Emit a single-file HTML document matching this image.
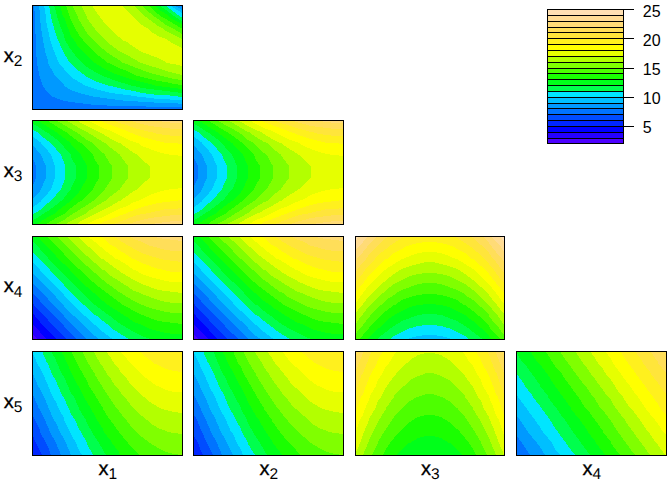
<!DOCTYPE html>
<html><head><meta charset="utf-8"><title>plot</title>
<style>html,body{margin:0;padding:0;background:#fff}svg{display:block}text.a{text-rendering:geometricPrecision;stroke:#000;stroke-width:.3px}text.a tspan{stroke:none}text{font-family:"Liberation Sans",Arial,sans-serif;fill:#000}</style></head>
<body>
<svg width="672" height="480" viewBox="0 0 672 480">
<rect width="672" height="480" fill="#fff"/>
<g shape-rendering="crispEdges">
<rect x="32" y="5" width="150" height="104" fill="#0073FF"/>
<path fill="#0099FF" d="M53,97l3,1l8,3l7,1l8,1l8,1l8,1l8,0l8,1l8,0l8,0l7,0l8,0l8,1l8,0l8,0l8,0l8,0l0,-10l0,-11l0,-12l0,-11l0,-12l0,-11l0,-12l0,-11l0,-10l-3,-2l-5,0l-8,0l-8,0l-8,0l-8,0l-8,0l-7,0l-8,0l-8,0l-8,0l-8,0l-8,0l-8,0l-8,0l-7,0l-8,0l-8,0l-8,0l-6,0l1,12l0,11l1,12l0,11l1,12l2,11l1,3l3,9l5,7z"/>
<path fill="#00BFFF" d="M97,97l6,1l8,1l8,1l8,1l7,0l8,1l8,0l8,1l8,0l8,0l8,1l0,-7l0,-11l0,-12l0,-11l0,-12l0,-11l0,-12l0,-11l0,-7l-8,-5l-8,0l-8,0l-8,0l-8,0l-8,0l-7,0l-8,0l-8,0l-8,0l-8,0l-8,0l-8,0l-8,0l-7,0l-8,0l-8,0l-8,0l-1,0l1,9l0,3l1,11l2,12l2,11l3,10l0,2l6,11l2,3l8,8l0,1l7,4l8,3l8,2l8,2z"/>
<path fill="#00E5FF" d="M140,97l2,0l8,1l8,1l8,0l8,1l8,0l0,-3l0,-11l0,-12l0,-11l0,-12l0,-11l0,-12l0,-11l0,-4l-8,-5l-4,-3l-4,0l-8,0l-8,0l-8,0l-8,0l-7,0l-8,0l-8,0l-8,0l-8,0l-8,0l-8,0l-8,0l-7,0l-8,0l-8,0l-4,0l2,12l1,11l1,1l2,11l4,11l2,5l3,7l5,6l4,5l3,3l8,5l7,4l1,0l8,3l8,2l8,2l8,1l8,1l7,1z"/>
<path fill="#00FF4D" d="M109,86l2,0l8,2l8,2l7,1l8,2l8,1l8,1l8,0l8,1l8,1l0,-11l0,-12l0,-11l0,-12l0,-11l0,-12l0,-11l-1,0l-7,-5l-8,-6l-1,-1l-7,0l-8,0l-8,0l-8,0l-7,0l-8,0l-8,0l-8,0l-8,0l-8,0l-8,0l-8,0l-7,0l-8,0l-7,0l2,12l3,11l2,6l2,6l5,11l1,2l6,10l1,1l8,7l4,3l4,3l8,4l8,3z"/>
<path fill="#00FF1A" d="M132,86l2,0l8,2l8,1l8,1l8,1l8,1l8,1l0,-7l0,-12l0,-11l0,-12l0,-11l0,-12l0,-7l-7,-4l-1,-1l-8,-6l-7,-5l-1,0l-8,0l-8,0l-8,0l-7,0l-8,0l-8,0l-8,0l-8,0l-8,0l-8,0l-8,0l-7,0l-8,0l-2,0l2,6l1,6l4,11l3,7l1,5l6,10l1,1l7,9l3,3l5,4l8,5l4,2l4,2l8,3l8,3l8,2z"/>
<path fill="#1AFF00" d="M157,86l1,0l8,1l8,1l8,1l0,-3l0,-12l0,-11l0,-12l0,-11l0,-12l0,-4l-8,-4l-5,-3l-3,-3l-8,-5l-4,-4l-4,0l-8,0l-8,0l-7,0l-8,0l-8,0l-8,0l-8,0l-8,0l-8,0l-8,0l-7,0l-4,0l3,12l1,0l4,11l3,8l3,4l5,8l3,3l5,5l7,7l1,0l8,5l8,4l4,2l4,1l8,3l7,2l8,2l8,2z"/>
<path fill="#4DFF00" d="M133,74l1,1l8,2l8,2l8,2l8,1l8,2l8,1l0,-11l0,-11l0,-12l0,-11l0,-12l-1,0l-7,-4l-8,-5l-4,-2l-4,-3l-8,-7l-2,-2l-6,0l-8,0l-7,0l-8,0l-8,0l-8,0l-8,0l-8,0l-8,0l-8,0l-5,0l4,12l1,3l4,8l4,7l4,5l4,5l6,6l2,2l8,6l5,4l3,1l8,4l8,3z"/>
<path fill="#80FF00" d="M153,74l5,1l8,2l8,2l8,1l0,-6l0,-11l0,-12l0,-11l0,-6l-8,-5l-2,-1l-6,-3l-8,-6l-3,-2l-5,-4l-8,-7l-1,-1l-7,0l-7,0l-8,0l-8,0l-8,0l-8,0l-8,0l-8,0l-7,0l6,12l1,3l5,8l3,5l6,7l2,2l8,7l2,2l6,4l8,5l4,3l4,1l7,3l8,3l8,3z"/>
<path fill="#B3FF00" d="M177,74l5,1l0,-1l0,-11l0,-12l0,-11l0,-1l-8,-4l-8,-4l-4,-3l-4,-2l-8,-6l-4,-3l-4,-3l-8,-8l-1,-1l-6,0l-8,0l-8,0l-8,0l-8,0l-8,0l-6,0l6,12l0,1l7,10l1,1l8,9l2,2l6,5l8,6l8,4l7,4l7,4l1,0l8,3l8,2l8,3l8,2z"/>
<path fill="#E6FF00" d="M166,63l8,1l8,2l0,-3l0,-12l0,-3l-8,-4l-7,-4l-1,-1l-8,-3l-8,-5l-3,-3l-5,-3l-8,-7l-1,-1l-6,-6l-5,-6l-3,0l-8,0l-8,0l-8,0l-3,0l3,5l5,7l3,4l6,7l2,2l8,7l3,3l5,2l7,5l6,4l2,1l8,3l8,3l8,4z"/>
<rect x="32.5" y="5.5" width="150" height="104" fill="none" stroke="#000" stroke-width="1"/>
</g>
<g shape-rendering="crispEdges">
<rect x="32" y="120" width="150" height="104" fill="#0073FF"/>
<path fill="#0099FF" d="M32,224l8,0l8,0l8,0l8,0l7,0l8,0l8,0l8,0l8,0l8,0l8,0l8,0l7,0l8,0l8,0l8,0l8,0l8,0l8,0l0,-12l0,-11l0,-12l0,-11l0,-12l0,-11l0,-12l0,-11l0,-12l-8,0l-8,0l-8,0l-8,0l-8,0l-8,0l-7,0l-8,0l-8,0l-8,0l-8,0l-8,0l-8,0l-8,0l-7,0l-8,0l-8,0l-8,0l-8,0l0,12l0,11l0,12l0,1l4,10l0,12l-4,10l0,1l0,12l0,11z"/>
<path fill="#00BFFF" d="M32,224l8,0l8,0l8,0l8,0l7,0l8,0l8,0l8,0l8,0l8,0l8,0l8,0l7,0l8,0l8,0l8,0l8,0l8,0l8,0l0,-12l0,-11l0,-12l0,-11l0,-12l0,-11l0,-12l0,-11l0,-12l-8,0l-8,0l-8,0l-8,0l-8,0l-8,0l-7,0l-8,0l-8,0l-8,0l-8,0l-8,0l-8,0l-8,0l-7,0l-8,0l-8,0l-8,0l-8,0l0,12l0,11l0,1l8,10l1,1l5,11l0,12l-5,11l-1,2l-8,9l0,1l0,11z"/>
<path fill="#00E5FF" d="M32,224l8,0l8,0l8,0l8,0l7,0l8,0l8,0l8,0l8,0l8,0l8,0l8,0l7,0l8,0l8,0l8,0l8,0l8,0l8,0l0,-12l0,-11l0,-12l0,-11l0,-12l0,-11l0,-12l0,-11l0,-12l-8,0l-8,0l-8,0l-8,0l-8,0l-8,0l-7,0l-8,0l-8,0l-8,0l-8,0l-8,0l-8,0l-8,0l-7,0l-8,0l-8,0l-8,0l-8,0l0,12l0,4l8,6l1,1l7,8l3,4l4,11l0,12l-4,11l-3,4l-7,8l-1,1l-8,6l0,4z"/>
<path fill="#00FF4D" d="M32,224l8,0l8,0l8,0l8,0l7,0l8,0l8,0l8,0l8,0l8,0l8,0l8,0l7,0l8,0l8,0l8,0l8,0l8,0l8,0l0,-12l0,-11l0,-12l0,-11l0,-12l0,-11l0,-12l0,-11l0,-12l-8,0l-8,0l-8,0l-8,0l-8,0l-8,0l-7,0l-8,0l-8,0l-8,0l-8,0l-8,0l-8,0l-8,0l-7,0l-8,0l-8,0l-8,0l-8,0l0,9l5,3l3,3l8,6l3,2l5,6l5,6l3,7l1,4l0,12l-1,4l-3,7l-5,6l-5,6l-3,2l-8,7l-3,2l-5,3z"/>
<path fill="#00FF1A" d="M32,224l8,0l8,0l8,0l8,0l7,0l8,0l8,0l8,0l8,0l8,0l8,0l8,0l7,0l8,0l8,0l8,0l8,0l8,0l8,0l0,-12l0,-11l0,-12l0,-11l0,-12l0,-11l0,-12l0,-11l0,-12l-8,0l-8,0l-8,0l-8,0l-8,0l-8,0l-7,0l-8,0l-8,0l-8,0l-8,0l-8,0l-8,0l-8,0l-7,0l-8,0l-8,0l-8,0l-8,0l0,3l8,5l6,4l2,1l8,6l5,4l3,4l7,8l0,2l5,9l0,12l-5,10l0,1l-7,9l-3,3l-5,4l-8,6l-2,1l-6,4l-8,5z"/>
<path fill="#1AFF00" d="M37,224l3,0l8,0l8,0l8,0l7,0l8,0l8,0l8,0l8,0l8,0l8,0l8,0l7,0l8,0l8,0l8,0l8,0l8,0l8,0l0,-12l0,-11l0,-12l0,-11l0,-12l0,-11l0,-12l0,-11l0,-12l-8,0l-8,0l-8,0l-8,0l-8,0l-8,0l-7,0l-8,0l-8,0l-8,0l-8,0l-8,0l-8,0l-8,0l-7,0l-8,0l-8,0l-8,0l-3,0l3,2l8,5l8,5l8,6l7,5l0,1l8,9l2,2l6,11l0,12l-6,11l-2,3l-8,8l0,1l-7,5l-8,6l0,1l-8,4l-8,5z"/>
<path fill="#4DFF00" d="M46,224l2,0l8,0l8,0l7,0l8,0l8,0l8,0l8,0l8,0l8,0l8,0l7,0l8,0l8,0l8,0l8,0l8,0l8,0l0,-12l0,-11l0,-12l0,-11l0,-12l0,-11l0,-12l0,-11l0,-12l-8,0l-8,0l-8,0l-8,0l-8,0l-8,0l-7,0l-8,0l-8,0l-8,0l-8,0l-8,0l-8,0l-8,0l-7,0l-8,0l-8,0l-2,0l2,1l8,5l8,5l2,1l5,4l8,6l2,1l6,6l6,6l2,5l4,6l0,12l-4,7l-2,4l-6,6l-6,6l-2,1l-8,6l-5,4l-2,2l-8,4l-8,5z"/>
<path fill="#80FF00" d="M56,224l8,0l7,0l8,0l8,0l8,0l8,0l8,0l8,0l8,0l7,0l8,0l8,0l8,0l8,0l8,0l8,0l0,-12l0,-11l0,-12l0,-11l0,-12l0,-11l0,-12l0,-11l0,-12l-8,0l-8,0l-8,0l-8,0l-8,0l-8,0l-7,0l-8,0l-8,0l-8,0l-8,0l-8,0l-8,0l-8,0l-7,0l-8,0l8,5l7,4l5,3l3,2l8,6l6,3l2,3l8,7l2,2l6,10l1,1l0,12l-1,2l-6,9l-2,2l-8,8l-2,2l-6,4l-8,5l-3,2l-5,3l-7,5z"/>
<path fill="#B3FF00" d="M66,224l5,0l8,0l8,0l8,0l8,0l8,0l8,0l8,0l7,0l8,0l8,0l8,0l8,0l8,0l8,0l0,-12l0,-11l0,-12l0,-11l0,-12l0,-11l0,-12l0,-11l0,-12l-8,0l-8,0l-8,0l-8,0l-8,0l-8,0l-7,0l-8,0l-8,0l-8,0l-8,0l-8,0l-8,0l-8,0l-5,0l5,3l8,5l8,4l8,5l8,5l2,1l6,5l8,6l1,1l7,10l1,1l0,12l-1,1l-7,10l-1,1l-8,6l-6,5l-2,1l-8,5l-8,5l0,1l-8,4l-8,4z"/>
<path fill="#E6FF00" d="M77,224l2,0l8,0l8,0l8,0l8,0l8,0l8,0l7,0l8,0l8,0l8,0l8,0l8,0l8,0l0,-12l0,-11l0,-12l0,-11l0,-12l0,-11l0,-12l0,-11l0,-12l-8,0l-8,0l-8,0l-8,0l-8,0l-8,0l-7,0l-8,0l-8,0l-8,0l-8,0l-8,0l-8,0l-2,0l2,2l8,4l8,4l4,2l4,2l8,5l8,4l1,0l7,5l7,5l4,2l4,5l8,6l0,12l-8,6l-4,5l-4,2l-7,5l-7,5l-1,0l-8,5l-8,4l-4,2l-4,2l-8,4l-8,4z"/>
<path fill="#FFFF00" d="M87,224l8,0l8,0l8,0l8,0l8,0l7,0l8,0l8,0l8,0l8,0l8,0l8,0l0,-12l0,-11l0,-12l0,-1l-8,1l-2,0l-6,1l-8,2l-8,3l-8,4l-4,2l-4,1l-7,4l-8,3l-6,3l-2,1l-8,4l-8,3zM172,155l2,0l8,1l0,-1l0,-12l0,-11l0,-12l-8,0l-8,0l-8,0l-8,0l-8,0l-8,0l-7,0l-8,0l-8,0l-8,0l-8,0l-8,0l8,4l8,4l8,3l2,1l6,3l8,4l7,3l4,1l4,3l8,3l8,3l8,2z"/>
<path fill="#FFF01E" d="M99,224l4,0l8,0l8,0l8,0l7,0l8,0l8,0l8,0l8,0l8,0l8,0l0,-12l0,-11l0,-1l-8,1l-1,0l-7,1l-8,1l-8,2l-8,2l-8,3l-6,2l-1,1l-8,3l-8,3l-8,3zM173,143l1,0l8,1l0,-1l0,-11l0,-12l-8,0l-8,0l-8,0l-8,0l-8,0l-8,0l-7,0l-8,0l-8,0l-8,0l-4,0l4,2l8,3l8,3l8,3l1,1l6,2l8,3l8,2l8,2l8,2z"/>
<path fill="#FFE53B" d="M113,224l6,0l8,0l7,0l8,0l8,0l8,0l8,0l8,0l8,0l0,-12l0,-4l-8,1l-8,0l-8,2l-7,1l-1,1l-8,1l-8,2l-7,3l-8,3zM151,132l7,2l8,1l8,1l8,0l0,-4l0,-12l-8,0l-8,0l-8,0l-8,0l-8,0l-8,0l-7,0l-8,0l-6,0l6,3l8,2l7,3l8,2l8,2z"/>
<path fill="#FFDE59" d="M129,224l5,0l8,0l8,0l8,0l8,0l8,0l8,0l0,-9l-8,0l-8,1l-8,1l-8,1l-8,2l-8,2zM129,120l5,2l8,2l8,2l8,1l8,1l8,1l8,0l0,-9l-8,0l-8,0l-8,0l-8,0l-8,0l-8,0z"/>
<path fill="#FFDB77" d="M152,224l6,0l8,0l8,0l8,0l0,-3l-8,0l-8,1l-8,1zM152,120l6,1l8,1l8,1l8,0l0,-3l-8,0l-8,0l-8,0z"/>
<rect x="32.5" y="120.5" width="150" height="104" fill="none" stroke="#000" stroke-width="1"/>
</g>
<g shape-rendering="crispEdges">
<rect x="193" y="120" width="150" height="104" fill="#0073FF"/>
<path fill="#0099FF" d="M193,224l8,0l8,0l8,0l8,0l8,0l8,0l7,0l8,0l8,0l8,0l8,0l8,0l8,0l8,0l7,0l8,0l8,0l8,0l8,0l0,-12l0,-11l0,-12l0,-11l0,-12l0,-11l0,-12l0,-11l0,-12l-8,0l-8,0l-8,0l-8,0l-7,0l-8,0l-8,0l-8,0l-8,0l-8,0l-8,0l-8,0l-7,0l-8,0l-8,0l-8,0l-8,0l-8,0l-8,0l0,12l0,11l0,12l0,1l5,10l0,12l-5,10l0,1l0,12l0,11z"/>
<path fill="#00BFFF" d="M193,224l8,0l8,0l8,0l8,0l8,0l8,0l7,0l8,0l8,0l8,0l8,0l8,0l8,0l8,0l7,0l8,0l8,0l8,0l8,0l0,-12l0,-11l0,-12l0,-11l0,-12l0,-11l0,-12l0,-11l0,-12l-8,0l-8,0l-8,0l-8,0l-7,0l-8,0l-8,0l-8,0l-8,0l-8,0l-8,0l-8,0l-7,0l-8,0l-8,0l-8,0l-8,0l-8,0l-8,0l0,12l0,11l0,1l8,10l1,1l5,11l0,12l-5,11l-1,2l-8,9l0,1l0,11z"/>
<path fill="#00E5FF" d="M193,224l8,0l8,0l8,0l8,0l8,0l8,0l7,0l8,0l8,0l8,0l8,0l8,0l8,0l8,0l7,0l8,0l8,0l8,0l8,0l0,-12l0,-11l0,-12l0,-11l0,-12l0,-11l0,-12l0,-11l0,-12l-8,0l-8,0l-8,0l-8,0l-7,0l-8,0l-8,0l-8,0l-8,0l-8,0l-8,0l-8,0l-7,0l-8,0l-8,0l-8,0l-8,0l-8,0l-8,0l0,12l0,4l8,6l1,1l7,8l3,4l5,11l0,12l-5,11l-3,4l-7,8l-1,1l-8,6l0,4z"/>
<path fill="#00FF4D" d="M193,224l8,0l8,0l8,0l8,0l8,0l8,0l7,0l8,0l8,0l8,0l8,0l8,0l8,0l8,0l7,0l8,0l8,0l8,0l8,0l0,-12l0,-11l0,-12l0,-11l0,-12l0,-11l0,-12l0,-11l0,-12l-8,0l-8,0l-8,0l-8,0l-7,0l-8,0l-8,0l-8,0l-8,0l-8,0l-8,0l-8,0l-7,0l-8,0l-8,0l-8,0l-8,0l-8,0l-8,0l0,9l5,3l3,3l8,6l3,2l5,6l5,6l3,7l2,4l0,12l-2,4l-3,7l-5,6l-5,6l-3,2l-8,7l-3,2l-5,3z"/>
<path fill="#00FF1A" d="M193,224l8,0l8,0l8,0l8,0l8,0l8,0l7,0l8,0l8,0l8,0l8,0l8,0l8,0l8,0l7,0l8,0l8,0l8,0l8,0l0,-12l0,-11l0,-12l0,-11l0,-12l0,-11l0,-12l0,-11l0,-12l-8,0l-8,0l-8,0l-8,0l-7,0l-8,0l-8,0l-8,0l-8,0l-8,0l-8,0l-8,0l-7,0l-8,0l-8,0l-8,0l-8,0l-8,0l-8,0l0,3l8,5l6,4l2,1l8,6l5,4l3,4l7,8l1,2l4,9l0,12l-4,10l-1,1l-7,9l-3,3l-5,4l-8,6l-2,1l-6,4l-8,5z"/>
<path fill="#1AFF00" d="M198,224l3,0l8,0l8,0l8,0l8,0l8,0l7,0l8,0l8,0l8,0l8,0l8,0l8,0l8,0l7,0l8,0l8,0l8,0l8,0l0,-12l0,-11l0,-12l0,-11l0,-12l0,-11l0,-12l0,-11l0,-12l-8,0l-8,0l-8,0l-8,0l-7,0l-8,0l-8,0l-8,0l-8,0l-8,0l-8,0l-8,0l-7,0l-8,0l-8,0l-8,0l-8,0l-8,0l-3,0l3,2l8,5l8,5l8,6l7,5l1,1l8,9l2,2l5,11l0,12l-5,11l-2,3l-8,8l-1,1l-7,5l-8,6l0,1l-8,4l-8,5z"/>
<path fill="#4DFF00" d="M208,224l1,0l8,0l8,0l8,0l8,0l7,0l8,0l8,0l8,0l8,0l8,0l8,0l8,0l7,0l8,0l8,0l8,0l8,0l0,-12l0,-11l0,-12l0,-11l0,-12l0,-11l0,-12l0,-11l0,-12l-8,0l-8,0l-8,0l-8,0l-7,0l-8,0l-8,0l-8,0l-8,0l-8,0l-8,0l-8,0l-7,0l-8,0l-8,0l-8,0l-8,0l-1,0l1,1l8,5l8,5l2,1l6,4l8,6l2,1l5,6l6,6l2,5l4,6l0,12l-4,7l-2,4l-6,6l-5,6l-2,1l-8,6l-6,4l-2,2l-8,4l-8,5z"/>
<path fill="#80FF00" d="M217,224l8,0l8,0l8,0l7,0l8,0l8,0l8,0l8,0l8,0l8,0l8,0l7,0l8,0l8,0l8,0l8,0l0,-12l0,-11l0,-12l0,-11l0,-12l0,-11l0,-12l0,-11l0,-12l-8,0l-8,0l-8,0l-8,0l-7,0l-8,0l-8,0l-8,0l-8,0l-8,0l-8,0l-8,0l-7,0l-8,0l-8,0l-8,0l8,5l8,4l5,3l3,2l7,6l6,3l2,3l8,7l3,2l5,10l1,1l0,12l-1,2l-5,9l-3,2l-8,8l-2,2l-6,4l-7,5l-3,2l-5,3l-8,5z"/>
<path fill="#B3FF00" d="M227,224l6,0l8,0l7,0l8,0l8,0l8,0l8,0l8,0l8,0l8,0l7,0l8,0l8,0l8,0l8,0l0,-12l0,-11l0,-12l0,-11l0,-12l0,-11l0,-12l0,-11l0,-12l-8,0l-8,0l-8,0l-8,0l-7,0l-8,0l-8,0l-8,0l-8,0l-8,0l-8,0l-8,0l-7,0l-8,0l-6,0l6,3l8,5l7,4l1,0l7,5l8,5l3,1l5,5l8,6l1,1l7,10l1,1l0,12l-1,1l-7,10l-1,1l-8,6l-5,5l-3,1l-8,5l-7,5l-1,1l-7,4l-8,4z"/>
<path fill="#E6FF00" d="M238,224l3,0l7,0l8,0l8,0l8,0l8,0l8,0l8,0l8,0l7,0l8,0l8,0l8,0l8,0l0,-12l0,-11l0,-12l0,-11l0,-12l0,-11l0,-12l0,-11l0,-12l-8,0l-8,0l-8,0l-8,0l-7,0l-8,0l-8,0l-8,0l-8,0l-8,0l-8,0l-8,0l-7,0l-3,0l3,2l7,4l8,4l5,2l3,2l8,5l8,4l1,0l7,5l8,5l3,2l5,5l7,6l0,12l-7,6l-5,5l-3,2l-8,5l-7,5l-1,0l-8,5l-8,4l-3,2l-5,2l-8,4l-7,4z"/>
<path fill="#FFFF00" d="M249,224l7,0l8,0l8,0l8,0l8,0l8,0l8,0l7,0l8,0l8,0l8,0l8,0l0,-12l0,-11l0,-12l0,-1l-8,1l-2,0l-6,1l-8,2l-8,3l-7,4l-5,2l-3,1l-8,4l-8,3l-6,3l-2,1l-8,4l-8,3zM333,155l2,0l8,1l0,-1l0,-12l0,-11l0,-12l-8,0l-8,0l-8,0l-8,0l-7,0l-8,0l-8,0l-8,0l-8,0l-8,0l-8,0l-7,0l7,4l8,4l8,3l2,1l6,3l8,4l8,3l3,1l5,3l7,3l8,3l8,2z"/>
<path fill="#FFF01E" d="M261,224l3,0l8,0l8,0l8,0l8,0l8,0l7,0l8,0l8,0l8,0l8,0l0,-12l0,-11l0,-1l-8,1l-1,0l-7,1l-8,1l-8,2l-7,2l-8,3l-6,2l-2,1l-8,3l-8,3l-8,3zM334,143l1,0l8,1l0,-1l0,-11l0,-12l-8,0l-8,0l-8,0l-8,0l-7,0l-8,0l-8,0l-8,0l-8,0l-8,0l-3,0l3,2l8,3l8,3l8,3l2,1l6,2l8,3l7,2l8,2l8,2z"/>
<path fill="#FFE53B" d="M274,224l6,0l8,0l8,0l8,0l7,0l8,0l8,0l8,0l8,0l0,-12l0,-4l-8,1l-8,0l-8,2l-7,1l-1,1l-7,1l-8,2l-8,3l-8,3zM312,132l7,2l8,1l8,1l8,0l0,-4l0,-12l-8,0l-8,0l-8,0l-8,0l-7,0l-8,0l-8,0l-8,0l-6,0l6,3l8,2l8,3l8,2l7,2z"/>
<path fill="#FFDE59" d="M290,224l6,0l8,0l7,0l8,0l8,0l8,0l8,0l0,-9l-8,0l-8,1l-8,1l-8,1l-7,2l-8,2zM290,120l6,2l8,2l7,2l8,1l8,1l8,1l8,0l0,-9l-8,0l-8,0l-8,0l-8,0l-7,0l-8,0z"/>
<path fill="#FFDB77" d="M313,224l6,0l8,0l8,0l8,0l0,-3l-8,0l-8,1l-8,1zM313,120l6,1l8,1l8,1l8,0l0,-3l-8,0l-8,0l-8,0z"/>
<rect x="193.5" y="120.5" width="150" height="104" fill="none" stroke="#000" stroke-width="1"/>
</g>
<g shape-rendering="crispEdges">
<rect x="32" y="236" width="150" height="103" fill="#4C00FF"/>
<path fill="#2600FF" d="M37,339l3,0l8,0l8,0l8,0l7,0l8,0l8,0l8,0l8,0l8,0l8,0l8,0l7,0l8,0l8,0l8,0l8,0l8,0l8,0l0,-11l0,-12l0,-11l0,-12l0,-11l0,-12l0,-11l0,-12l0,-11l-8,0l-8,0l-8,0l-8,0l-8,0l-8,0l-7,0l-8,0l-8,0l-8,0l-8,0l-8,0l-8,0l-8,0l-7,0l-8,0l-8,0l-8,0l-8,0l0,11l0,12l0,11l0,12l0,11l0,12l0,11l0,12l0,6z"/>
<path fill="#0000FF" d="M36,328l4,4l6,7l2,0l8,0l8,0l7,0l8,0l8,0l8,0l8,0l8,0l8,0l8,0l7,0l8,0l8,0l8,0l8,0l8,0l8,0l0,-11l0,-12l0,-11l0,-12l0,-11l0,-12l0,-11l0,-12l0,-11l-8,0l-8,0l-8,0l-8,0l-8,0l-8,0l-7,0l-8,0l-8,0l-8,0l-8,0l-8,0l-8,0l-8,0l-7,0l-8,0l-8,0l-8,0l-8,0l0,11l0,12l0,11l0,12l0,11l0,12l0,11l0,8z"/>
<path fill="#0026FF" d="M45,328l3,2l8,9l8,0l7,0l8,0l8,0l8,0l8,0l8,0l8,0l8,0l7,0l8,0l8,0l8,0l8,0l8,0l8,0l0,-11l0,-12l0,-11l0,-12l0,-11l0,-12l0,-11l0,-12l0,-11l-8,0l-8,0l-8,0l-8,0l-8,0l-8,0l-7,0l-8,0l-8,0l-8,0l-8,0l-8,0l-8,0l-8,0l-7,0l-8,0l-8,0l-8,0l-8,0l0,11l0,12l0,11l0,12l0,11l0,12l0,8l3,3l5,6z"/>
<path fill="#004CFF" d="M55,328l1,1l8,8l2,2l5,0l8,0l8,0l8,0l8,0l8,0l8,0l8,0l7,0l8,0l8,0l8,0l8,0l8,0l8,0l0,-11l0,-12l0,-11l0,-12l0,-11l0,-12l0,-11l0,-12l0,-11l-8,0l-8,0l-8,0l-8,0l-8,0l-8,0l-7,0l-8,0l-8,0l-8,0l-8,0l-8,0l-8,0l-8,0l-7,0l-8,0l-8,0l-8,0l-8,0l0,11l0,12l0,11l0,12l0,11l0,10l2,2l6,7l4,4l4,4z"/>
<path fill="#0073FF" d="M65,328l6,6l6,5l2,0l8,0l8,0l8,0l8,0l8,0l8,0l7,0l8,0l8,0l8,0l8,0l8,0l8,0l0,-11l0,-12l0,-11l0,-12l0,-11l0,-12l0,-11l0,-12l0,-11l-8,0l-8,0l-8,0l-8,0l-8,0l-8,0l-7,0l-8,0l-8,0l-8,0l-8,0l-8,0l-8,0l-8,0l-7,0l-8,0l-8,0l-8,0l-8,0l0,11l0,12l0,11l0,12l0,11l1,0l7,8l3,4l5,5l6,6l2,2l8,8z"/>
<path fill="#0099FF" d="M75,328l4,4l8,7l8,0l8,0l8,0l8,0l8,0l7,0l8,0l8,0l8,0l8,0l8,0l8,0l0,-11l0,-12l0,-11l0,-12l0,-11l0,-12l0,-11l0,-12l0,-11l-8,0l-8,0l-8,0l-8,0l-8,0l-8,0l-7,0l-8,0l-8,0l-8,0l-8,0l-8,0l-8,0l-8,0l-7,0l-8,0l-8,0l-8,0l-8,0l0,11l0,12l0,11l0,12l8,9l2,2l6,6l5,6l3,3l8,8l7,8z"/>
<path fill="#00BFFF" d="M86,328l1,1l8,7l4,3l4,0l8,0l8,0l8,0l7,0l8,0l8,0l8,0l8,0l8,0l8,0l0,-11l0,-12l0,-11l0,-12l0,-11l0,-12l0,-11l0,-12l0,-11l-8,0l-8,0l-8,0l-8,0l-8,0l-8,0l-7,0l-8,0l-8,0l-8,0l-8,0l-8,0l-8,0l-8,0l-7,0l-8,0l-8,0l-8,0l-8,0l0,11l0,12l0,11l0,2l8,9l1,1l7,7l4,4l4,4l7,8l1,1l7,8l3,2l5,5z"/>
<path fill="#00E5FF" d="M98,328l5,4l8,6l2,1l6,0l8,0l7,0l8,0l8,0l8,0l8,0l8,0l8,0l0,-11l0,-12l0,-11l0,-12l0,-11l0,-12l0,-11l0,-12l0,-11l-8,0l-8,0l-8,0l-8,0l-8,0l-8,0l-7,0l-8,0l-8,0l-8,0l-8,0l-8,0l-8,0l-8,0l-7,0l-8,0l-8,0l-8,0l-8,0l0,11l0,12l0,3l8,8l8,9l3,3l5,5l6,6l2,2l7,8l2,2l6,6l6,5l2,2l8,7z"/>
<path fill="#00FF4D" d="M111,328l8,5l8,5l2,1l5,0l8,0l8,0l8,0l8,0l8,0l8,0l0,-11l0,-12l0,-11l0,-12l0,-11l0,-12l0,-11l0,-12l0,-11l-8,0l-8,0l-8,0l-8,0l-8,0l-8,0l-7,0l-8,0l-8,0l-8,0l-8,0l-8,0l-8,0l-8,0l-7,0l-8,0l-8,0l-8,0l-8,0l0,11l0,4l7,8l1,1l8,8l2,2l6,7l5,5l3,3l7,8l1,0l7,8l5,4l3,3l8,7l2,1l6,5l8,6z"/>
<path fill="#00FF1A" d="M127,328l7,4l8,4l8,3l2,0l6,0l8,0l8,0l8,0l0,-11l0,-12l0,-11l0,-12l0,-11l0,-12l0,-11l0,-12l0,-11l-8,0l-8,0l-8,0l-8,0l-8,0l-8,0l-7,0l-8,0l-8,0l-8,0l-8,0l-8,0l-8,0l-8,0l-7,0l-8,0l-8,0l-8,0l-8,0l0,5l6,6l2,2l8,9l0,1l8,7l3,4l5,5l7,7l8,8l4,3l4,5l8,7l8,6l7,5l1,1l8,6z"/>
<path fill="#1AFF00" d="M148,328l2,1l8,2l8,2l8,1l8,0l0,-6l0,-12l0,-11l0,-12l0,-11l0,-12l0,-11l0,-12l0,-11l-8,0l-8,0l-8,0l-8,0l-8,0l-8,0l-7,0l-8,0l-8,0l-8,0l-8,0l-8,0l-8,0l-8,0l-7,0l-8,0l-8,0l-8,0l-3,0l3,3l7,8l1,1l8,8l2,3l6,5l6,6l1,2l8,8l2,2l6,5l7,6l1,1l8,7l5,4l3,2l8,5l6,4l2,1l7,5l8,3z"/>
<path fill="#4DFF00" d="M145,316l5,2l8,3l8,1l8,1l8,1l0,-8l0,-11l0,-12l0,-11l0,-12l0,-11l0,-12l0,-11l-8,0l-8,0l-8,0l-8,0l-8,0l-8,0l-7,0l-8,0l-8,0l-8,0l-8,0l-8,0l-8,0l-8,0l-7,0l-8,0l-8,0l-2,0l2,1l8,9l1,1l7,7l4,5l3,3l8,7l1,1l7,7l6,5l2,2l8,6l4,3l4,3l8,6l4,3l4,2l7,4l8,4z"/>
<path fill="#80FF00" d="M143,305l7,3l8,2l8,2l8,1l8,0l0,-8l0,-12l0,-11l0,-12l0,-11l0,-12l0,-11l-8,0l-8,0l-8,0l-8,0l-8,0l-8,0l-7,0l-8,0l-8,0l-8,0l-8,0l-8,0l-8,0l-8,0l-7,0l-8,0l8,7l3,4l4,4l8,8l8,7l4,4l4,3l8,7l2,2l6,4l8,6l2,1l6,4l7,4l8,4z"/>
<path fill="#B3FF00" d="M140,293l2,1l8,3l8,3l8,2l8,1l8,0l0,-10l0,-11l0,-12l0,-11l0,-12l0,-11l-8,0l-8,0l-8,0l-8,0l-8,0l-8,0l-7,0l-8,0l-8,0l-8,0l-8,0l-8,0l-8,0l-8,0l-5,0l5,5l7,6l1,2l8,7l3,3l5,4l8,7l1,0l7,6l8,5l1,1l7,4l7,5z"/>
<path fill="#E6FF00" d="M138,282l4,2l8,3l8,3l8,1l8,1l8,1l0,-11l0,-12l0,-11l0,-12l0,-11l-8,0l-8,0l-8,0l-8,0l-8,0l-8,0l-7,0l-8,0l-8,0l-8,0l-8,0l-8,0l-8,0l-2,0l2,2l8,8l2,1l6,6l7,6l1,0l8,6l7,5l1,1l8,5l7,4z"/>
<path fill="#FFFF00" d="M172,282l2,0l8,0l0,-12l0,-11l0,-12l0,-11l-8,0l-8,0l-8,0l-8,0l-8,0l-8,0l-7,0l-8,0l-8,0l-8,0l-8,0l-8,0l8,6l6,5l2,2l8,6l5,4l3,1l8,5l7,5l1,0l7,4l8,3l8,2l8,2z"/>
<path fill="#FFF01E" d="M165,270l1,1l8,1l8,0l0,-2l0,-11l0,-12l0,-11l-8,0l-8,0l-8,0l-8,0l-8,0l-8,0l-7,0l-8,0l-8,0l-8,0l-4,0l4,2l8,7l4,2l4,3l8,5l6,4l1,0l8,4l8,3l8,3z"/>
<path fill="#FFE53B" d="M159,259l7,1l8,1l8,1l0,-3l0,-12l0,-11l-8,0l-8,0l-8,0l-8,0l-8,0l-8,0l-7,0l-8,0l-6,0l6,4l8,5l4,2l3,2l8,4l8,3l8,2z"/>
<path fill="#FFDE59" d="M155,247l3,1l8,2l8,1l8,0l0,-4l0,-11l-8,0l-8,0l-8,0l-8,0l-8,0l-8,0l-5,0l5,3l8,3l8,4z"/>
<path fill="#FFDB77" d="M152,236l6,2l8,1l8,1l8,1l0,-5l-8,0l-8,0l-8,0z"/>
<rect x="32.5" y="236.5" width="150" height="103" fill="none" stroke="#000" stroke-width="1"/>
</g>
<g shape-rendering="crispEdges">
<rect x="193" y="236" width="150" height="103" fill="#4C00FF"/>
<path fill="#2600FF" d="M198,339l3,0l8,0l8,0l8,0l8,0l8,0l7,0l8,0l8,0l8,0l8,0l8,0l8,0l8,0l7,0l8,0l8,0l8,0l8,0l0,-11l0,-12l0,-11l0,-12l0,-11l0,-12l0,-11l0,-12l0,-11l-8,0l-8,0l-8,0l-8,0l-7,0l-8,0l-8,0l-8,0l-8,0l-8,0l-8,0l-8,0l-7,0l-8,0l-8,0l-8,0l-8,0l-8,0l-8,0l0,11l0,12l0,11l0,12l0,11l0,12l0,11l0,12l0,6z"/>
<path fill="#0000FF" d="M197,328l4,4l7,7l1,0l8,0l8,0l8,0l8,0l7,0l8,0l8,0l8,0l8,0l8,0l8,0l8,0l7,0l8,0l8,0l8,0l8,0l0,-11l0,-12l0,-11l0,-12l0,-11l0,-12l0,-11l0,-12l0,-11l-8,0l-8,0l-8,0l-8,0l-7,0l-8,0l-8,0l-8,0l-8,0l-8,0l-8,0l-8,0l-7,0l-8,0l-8,0l-8,0l-8,0l-8,0l-8,0l0,11l0,12l0,11l0,12l0,11l0,12l0,11l0,8z"/>
<path fill="#0026FF" d="M207,328l2,2l8,9l8,0l8,0l8,0l7,0l8,0l8,0l8,0l8,0l8,0l8,0l8,0l7,0l8,0l8,0l8,0l8,0l0,-11l0,-12l0,-11l0,-12l0,-11l0,-12l0,-11l0,-12l0,-11l-8,0l-8,0l-8,0l-8,0l-7,0l-8,0l-8,0l-8,0l-8,0l-8,0l-8,0l-8,0l-7,0l-8,0l-8,0l-8,0l-8,0l-8,0l-8,0l0,11l0,12l0,11l0,12l0,11l0,12l0,8l3,3l5,6z"/>
<path fill="#004CFF" d="M216,328l1,1l8,8l2,2l6,0l8,0l7,0l8,0l8,0l8,0l8,0l8,0l8,0l8,0l7,0l8,0l8,0l8,0l8,0l0,-11l0,-12l0,-11l0,-12l0,-11l0,-12l0,-11l0,-12l0,-11l-8,0l-8,0l-8,0l-8,0l-7,0l-8,0l-8,0l-8,0l-8,0l-8,0l-8,0l-8,0l-7,0l-8,0l-8,0l-8,0l-8,0l-8,0l-8,0l0,11l0,12l0,11l0,12l0,11l0,10l2,2l6,7l5,4l3,4z"/>
<path fill="#0073FF" d="M226,328l7,6l5,5l3,0l7,0l8,0l8,0l8,0l8,0l8,0l8,0l8,0l7,0l8,0l8,0l8,0l8,0l0,-11l0,-12l0,-11l0,-12l0,-11l0,-12l0,-11l0,-12l0,-11l-8,0l-8,0l-8,0l-8,0l-7,0l-8,0l-8,0l-8,0l-8,0l-8,0l-8,0l-8,0l-7,0l-8,0l-8,0l-8,0l-8,0l-8,0l-8,0l0,11l0,12l0,11l0,12l0,11l1,0l7,8l3,4l5,5l6,6l2,2l8,8z"/>
<path fill="#0099FF" d="M237,328l4,4l7,7l1,0l7,0l8,0l8,0l8,0l8,0l8,0l8,0l7,0l8,0l8,0l8,0l8,0l0,-11l0,-12l0,-11l0,-12l0,-11l0,-12l0,-11l0,-12l0,-11l-8,0l-8,0l-8,0l-8,0l-7,0l-8,0l-8,0l-8,0l-8,0l-8,0l-8,0l-8,0l-7,0l-8,0l-8,0l-8,0l-8,0l-8,0l-8,0l0,11l0,12l0,11l0,12l8,9l2,2l6,6l5,6l3,3l8,8l8,8z"/>
<path fill="#00BFFF" d="M248,328l0,1l8,7l5,3l3,0l8,0l8,0l8,0l8,0l8,0l7,0l8,0l8,0l8,0l8,0l0,-11l0,-12l0,-11l0,-12l0,-11l0,-12l0,-11l0,-12l0,-11l-8,0l-8,0l-8,0l-8,0l-7,0l-8,0l-8,0l-8,0l-8,0l-8,0l-8,0l-8,0l-7,0l-8,0l-8,0l-8,0l-8,0l-8,0l-8,0l0,11l0,12l0,11l0,2l8,9l1,1l7,7l4,4l4,4l7,8l1,1l8,8l2,2l6,5z"/>
<path fill="#00E5FF" d="M259,328l5,4l8,6l2,1l6,0l8,0l8,0l8,0l7,0l8,0l8,0l8,0l8,0l0,-11l0,-12l0,-11l0,-12l0,-11l0,-12l0,-11l0,-12l0,-11l-8,0l-8,0l-8,0l-8,0l-7,0l-8,0l-8,0l-8,0l-8,0l-8,0l-8,0l-8,0l-7,0l-8,0l-8,0l-8,0l-8,0l-8,0l-8,0l0,11l0,12l0,3l8,8l8,9l3,3l5,5l6,6l2,2l8,8l1,2l7,6l5,5l2,2l8,7z"/>
<path fill="#00FF4D" d="M273,328l7,5l8,5l2,1l6,0l8,0l7,0l8,0l8,0l8,0l8,0l0,-11l0,-12l0,-11l0,-12l0,-11l0,-12l0,-11l0,-12l0,-11l-8,0l-8,0l-8,0l-8,0l-7,0l-8,0l-8,0l-8,0l-8,0l-8,0l-8,0l-8,0l-7,0l-8,0l-8,0l-8,0l-8,0l-8,0l-8,0l0,11l0,4l7,8l1,1l8,8l2,2l6,7l5,5l3,3l8,8l8,8l4,4l3,3l8,7l2,1l6,5l8,6z"/>
<path fill="#00FF1A" d="M288,328l8,4l8,4l7,3l2,0l6,0l8,0l8,0l8,0l0,-11l0,-12l0,-11l0,-12l0,-11l0,-12l0,-11l0,-12l0,-11l-8,0l-8,0l-8,0l-8,0l-7,0l-8,0l-8,0l-8,0l-8,0l-8,0l-8,0l-8,0l-7,0l-8,0l-8,0l-8,0l-8,0l-8,0l-8,0l0,5l6,6l2,2l8,9l1,1l7,7l4,4l4,5l7,7l1,0l8,8l3,3l4,5l8,7l1,0l7,6l7,5l1,1l8,6z"/>
<path fill="#1AFF00" d="M310,328l1,1l8,2l8,2l8,1l8,0l0,-6l0,-12l0,-11l0,-12l0,-11l0,-12l0,-11l0,-12l0,-11l-8,0l-8,0l-8,0l-8,0l-7,0l-8,0l-8,0l-8,0l-8,0l-8,0l-8,0l-8,0l-7,0l-8,0l-8,0l-8,0l-8,0l-8,0l-3,0l3,3l8,8l0,1l8,8l3,3l5,5l6,6l2,2l8,8l2,2l5,5l7,6l1,1l8,7l6,4l2,2l8,5l6,4l2,1l8,5l8,3z"/>
<path fill="#4DFF00" d="M307,316l4,2l8,3l8,1l8,1l8,1l0,-8l0,-11l0,-12l0,-11l0,-12l0,-11l0,-12l0,-11l-8,0l-8,0l-8,0l-8,0l-7,0l-8,0l-8,0l-8,0l-8,0l-8,0l-8,0l-8,0l-7,0l-8,0l-8,0l-8,0l-8,0l-1,0l1,1l8,9l2,1l6,7l5,5l3,3l8,7l0,1l7,7l6,5l2,2l8,6l4,3l4,3l8,6l4,3l4,2l8,4l8,4z"/>
<path fill="#80FF00" d="M304,305l7,3l8,2l8,2l8,1l8,0l0,-8l0,-12l0,-11l0,-12l0,-11l0,-12l0,-11l-8,0l-8,0l-8,0l-8,0l-7,0l-8,0l-8,0l-8,0l-8,0l-8,0l-8,0l-8,0l-7,0l-8,0l-8,0l-8,0l8,7l4,4l4,4l7,8l1,0l7,7l5,4l3,3l8,7l3,2l5,4l8,6l3,1l5,4l8,4z"/>
<path fill="#B3FF00" d="M301,293l3,1l7,3l8,3l8,2l8,1l8,0l0,-10l0,-11l0,-12l0,-11l0,-12l0,-11l-8,0l-8,0l-8,0l-8,0l-7,0l-8,0l-8,0l-8,0l-8,0l-8,0l-8,0l-8,0l-7,0l-8,0l-6,0l6,5l6,6l2,2l7,7l3,3l5,4l8,7l1,0l7,6l8,5l1,1l7,4l8,5z"/>
<path fill="#E6FF00" d="M299,282l5,2l7,3l8,3l8,1l8,1l8,1l0,-11l0,-12l0,-11l0,-12l0,-11l-8,0l-8,0l-8,0l-8,0l-7,0l-8,0l-8,0l-8,0l-8,0l-8,0l-8,0l-8,0l-7,0l-3,0l3,2l7,8l2,1l6,6l8,6l8,6l7,5l1,1l8,5l8,4z"/>
<path fill="#FFFF00" d="M333,282l2,0l8,0l0,-12l0,-11l0,-12l0,-11l-8,0l-8,0l-8,0l-8,0l-7,0l-8,0l-8,0l-8,0l-8,0l-8,0l-8,0l-7,0l7,6l6,5l2,2l8,6l5,4l3,1l8,5l8,5l1,0l7,4l7,3l8,2l8,2z"/>
<path fill="#FFF01E" d="M326,270l1,1l8,1l8,0l0,-2l0,-11l0,-12l0,-11l-8,0l-8,0l-8,0l-8,0l-7,0l-8,0l-8,0l-8,0l-8,0l-8,0l-3,0l3,2l8,7l4,2l4,3l8,5l6,4l2,0l8,4l7,3l8,3z"/>
<path fill="#FFE53B" d="M321,259l6,1l8,1l8,1l0,-3l0,-12l0,-11l-8,0l-8,0l-8,0l-8,0l-7,0l-8,0l-8,0l-8,0l-6,0l6,4l8,5l4,2l4,2l8,4l7,3l8,2z"/>
<path fill="#FFDE59" d="M317,247l2,1l8,2l8,1l8,0l0,-4l0,-11l-8,0l-8,0l-8,0l-8,0l-7,0l-8,0l-6,0l6,3l8,3l7,4z"/>
<path fill="#FFDB77" d="M313,236l6,2l8,1l8,1l8,1l0,-5l-8,0l-8,0l-8,0z"/>
<rect x="193.5" y="236.5" width="150" height="103" fill="none" stroke="#000" stroke-width="1"/>
</g>
<g shape-rendering="crispEdges">
<rect x="355" y="236" width="149" height="103" fill="#00BFFF"/>
<path fill="#00E5FF" d="M355,339l8,0l7,0l8,0l8,0l8,0l8,0l6,0l2,-1l8,-2l8,-1l7,0l8,1l8,2l2,1l6,0l8,0l8,0l8,0l8,0l7,0l8,0l0,-11l0,-12l0,-11l0,-12l0,-11l0,-12l0,-11l0,-12l0,-11l-8,0l-7,0l-8,0l-8,0l-8,0l-8,0l-8,0l-8,0l-8,0l-7,0l-8,0l-8,0l-8,0l-8,0l-8,0l-8,0l-8,0l-7,0l-8,0l0,11l0,12l0,11l0,12l0,11l0,12l0,11l0,12z"/>
<path fill="#00FF4D" d="M355,339l8,0l7,0l8,0l8,0l4,0l4,-3l8,-4l8,-4l1,0l7,-2l8,-1l7,0l8,1l7,2l1,0l8,4l8,4l4,3l4,0l8,0l8,0l7,0l8,0l0,-11l0,-12l0,-11l0,-12l0,-11l0,-12l0,-11l0,-12l0,-11l-8,0l-7,0l-8,0l-8,0l-8,0l-8,0l-8,0l-8,0l-8,0l-7,0l-8,0l-8,0l-8,0l-8,0l-8,0l-8,0l-8,0l-7,0l-8,0l0,11l0,12l0,11l0,12l0,11l0,12l0,11l0,12z"/>
<path fill="#00FF1A" d="M355,339l8,0l7,0l7,0l1,-1l8,-6l5,-4l3,-2l8,-5l8,-3l5,-2l3,-1l8,-1l7,0l8,1l3,1l5,2l8,3l8,5l3,2l5,4l8,6l1,1l7,0l7,0l8,0l0,-11l0,-12l0,-11l0,-12l0,-11l0,-12l0,-11l0,-12l0,-11l-8,0l-7,0l-8,0l-8,0l-8,0l-8,0l-8,0l-8,0l-8,0l-7,0l-8,0l-8,0l-8,0l-8,0l-8,0l-8,0l-8,0l-7,0l-8,0l0,11l0,12l0,11l0,12l0,11l0,12l0,11l0,12z"/>
<path fill="#1AFF00" d="M355,339l8,0l5,0l2,-3l8,-8l1,0l7,-7l7,-5l1,-1l8,-4l8,-4l8,-2l2,0l6,-1l7,0l6,1l2,0l8,2l8,4l8,4l1,1l7,5l7,7l1,0l8,8l2,3l5,0l8,0l0,-11l0,-12l0,-11l0,-12l0,-11l0,-12l0,-11l0,-12l0,-11l-8,0l-7,0l-8,0l-8,0l-8,0l-8,0l-8,0l-8,0l-8,0l-7,0l-8,0l-8,0l-8,0l-8,0l-8,0l-8,0l-8,0l-7,0l-8,0l0,11l0,12l0,11l0,12l0,11l0,12l0,11l0,12z"/>
<path fill="#4DFF00" d="M355,339l4,0l4,-4l6,-7l1,-2l8,-8l2,-2l6,-5l8,-6l1,0l7,-5l8,-3l8,-2l8,-1l7,0l8,1l8,2l8,3l7,5l1,0l8,6l6,5l2,2l8,8l1,2l6,7l4,4l4,0l0,-11l0,-12l0,-11l0,-12l0,-11l0,-12l0,-11l0,-12l0,-11l-8,0l-7,0l-8,0l-8,0l-8,0l-8,0l-8,0l-8,0l-8,0l-7,0l-8,0l-8,0l-8,0l-8,0l-8,0l-8,0l-8,0l-7,0l-8,0l0,11l0,12l0,11l0,12l0,11l0,12l0,11l0,12z"/>
<path fill="#80FF00" d="M355,328l0,7l5,-7l3,-3l7,-9l0,-1l8,-8l3,-2l5,-5l8,-5l2,-2l6,-3l8,-3l8,-3l8,-1l7,0l8,1l8,3l8,3l6,3l2,2l8,5l5,5l3,2l8,8l0,1l7,9l3,3l5,7l0,-7l0,-12l0,-11l0,-12l0,-11l0,-12l0,-11l0,-12l0,-11l-8,0l-7,0l-8,0l-8,0l-8,0l-8,0l-8,0l-8,0l-8,0l-7,0l-8,0l-8,0l-8,0l-8,0l-8,0l-8,0l-8,0l-7,0l-8,0l0,11l0,12l0,11l0,12l0,11l0,12l0,11z"/>
<path fill="#B3FF00" d="M355,316l0,9l6,-9l2,-2l7,-9l1,0l7,-8l5,-4l3,-3l8,-6l4,-2l4,-2l8,-4l8,-2l8,-1l7,0l8,1l8,2l8,4l4,2l4,2l8,6l3,3l5,4l7,8l1,0l7,9l2,2l6,9l0,-9l0,-11l0,-12l0,-11l0,-12l0,-11l0,-12l0,-11l-8,0l-7,0l-8,0l-8,0l-8,0l-8,0l-8,0l-8,0l-8,0l-7,0l-8,0l-8,0l-8,0l-8,0l-8,0l-8,0l-8,0l-7,0l-8,0l0,11l0,12l0,11l0,12l0,11l0,12z"/>
<path fill="#E6FF00" d="M355,305l0,9l7,-9l1,-1l7,-9l2,-2l6,-6l6,-5l2,-2l8,-6l6,-4l2,-1l8,-3l8,-2l8,-2l7,0l8,2l8,2l8,3l2,1l6,4l8,6l2,2l6,5l6,6l2,2l7,9l1,1l7,9l0,-9l0,-12l0,-11l0,-12l0,-11l0,-12l0,-11l-8,0l-7,0l-8,0l-8,0l-8,0l-8,0l-8,0l-8,0l-8,0l-7,0l-8,0l-8,0l-8,0l-8,0l-8,0l-8,0l-8,0l-7,0l-8,0l0,11l0,12l0,11l0,12l0,11z"/>
<path fill="#FFFF00" d="M355,293l0,11l8,-11l7,-9l3,-2l5,-6l7,-6l1,-1l8,-5l8,-5l1,0l7,-3l8,-3l8,-1l7,0l8,1l8,3l7,3l1,0l8,5l8,5l1,1l7,6l5,6l3,2l7,9l8,11l0,-11l0,-11l0,-12l0,-11l0,-12l0,-11l-8,0l-7,0l-8,0l-8,0l-8,0l-8,0l-8,0l-8,0l-8,0l-7,0l-8,0l-8,0l-8,0l-8,0l-8,0l-8,0l-8,0l-7,0l-8,0l0,11l0,12l0,11l0,12z"/>
<path fill="#FFF01E" d="M355,293l8,-10l1,-1l6,-8l4,-4l4,-4l8,-7l1,0l7,-6l8,-4l3,-2l5,-2l8,-2l8,-1l7,0l8,1l8,2l5,2l3,2l8,4l7,6l1,0l8,7l4,4l4,4l6,8l1,1l8,10l0,-11l0,-12l0,-11l0,-12l0,-11l-8,0l-7,0l-8,0l-8,0l-8,0l-8,0l-8,0l-8,0l-8,0l-7,0l-8,0l-8,0l-8,0l-8,0l-8,0l-8,0l-8,0l-7,0l-8,0l0,11l0,12l0,11l0,12z"/>
<path fill="#FFE53B" d="M355,282l0,1l1,-1l7,-9l2,-3l5,-6l5,-5l3,-4l8,-6l2,-2l6,-4l8,-5l6,-2l-6,0l-8,0l-8,0l-8,0l-8,0l-7,0l-8,0l0,11l0,12l0,11zM503,282l1,1l0,-1l0,-12l0,-11l0,-12l0,-11l-8,0l-7,0l-8,0l-8,0l-8,0l-8,0l-6,0l6,2l8,5l6,4l2,2l8,6l3,4l5,5l5,6l2,3z"/>
<path fill="#FFDE59" d="M355,270l0,3l2,-3l6,-8l3,-3l4,-6l6,-6l2,-2l8,-7l4,-2l-4,0l-8,0l-8,0l-7,0l-8,0l0,11l0,12zM502,270l2,3l0,-3l0,-11l0,-12l0,-11l-8,0l-7,0l-8,0l-8,0l-4,0l4,2l8,7l2,2l6,6l4,6l3,3z"/>
<path fill="#FFDB77" d="M355,259l0,3l2,-3l6,-7l4,-5l3,-4l7,-7l-7,0l-7,0l-8,0l0,11zM502,259l2,3l0,-3l0,-12l0,-11l-8,0l-7,0l-7,0l7,7l3,4l4,5z"/>
<path fill="#FFDC95" d="M355,247l0,5l3,-5l5,-5l5,-6l-5,0l-8,0zM501,247l3,5l0,-5l0,-11l-8,0l-5,0l5,6z"/>
<path fill="#FFE0B3" d="M355,236l0,6l4,-6zM500,236l4,6l0,-6z"/>
<rect x="355.5" y="236.5" width="149" height="103" fill="none" stroke="#000" stroke-width="1"/>
</g>
<g shape-rendering="crispEdges">
<rect x="32" y="351" width="150" height="104" fill="#0026FF"/>
<path fill="#004CFF" d="M36,443l4,8l2,4l6,0l8,0l8,0l7,0l8,0l8,0l8,0l8,0l8,0l8,0l8,0l7,0l8,0l8,0l8,0l8,0l8,0l8,0l0,-12l0,-11l0,-12l0,-11l0,-12l0,-11l0,-12l0,-11l0,-12l-8,0l-8,0l-8,0l-8,0l-8,0l-8,0l-7,0l-8,0l-8,0l-8,0l-8,0l-8,0l-8,0l-8,0l-7,0l-8,0l-8,0l-8,0l-8,0l0,12l0,11l0,12l0,11l0,12l0,11l0,12l0,2z"/>
<path fill="#0073FF" d="M46,443l2,4l3,8l5,0l8,0l7,0l8,0l8,0l8,0l8,0l8,0l8,0l8,0l7,0l8,0l8,0l8,0l8,0l8,0l8,0l0,-12l0,-11l0,-12l0,-11l0,-12l0,-11l0,-12l0,-11l0,-12l-8,0l-8,0l-8,0l-8,0l-8,0l-8,0l-7,0l-8,0l-8,0l-8,0l-8,0l-8,0l-8,0l-8,0l-7,0l-8,0l-8,0l-8,0l-8,0l0,12l0,11l0,12l0,11l0,12l0,4l3,7l5,10l0,2z"/>
<path fill="#0099FF" d="M56,443l5,12l3,0l7,0l8,0l8,0l8,0l8,0l8,0l8,0l8,0l7,0l8,0l8,0l8,0l8,0l8,0l8,0l0,-12l0,-11l0,-12l0,-11l0,-12l0,-11l0,-12l0,-11l0,-12l-8,0l-8,0l-8,0l-8,0l-8,0l-8,0l-7,0l-8,0l-8,0l-8,0l-8,0l-8,0l-8,0l-8,0l-7,0l-8,0l-8,0l-8,0l-8,0l0,12l0,11l0,12l0,6l2,5l5,12l1,1l5,10l3,7l2,5z"/>
<path fill="#00BFFF" d="M71,455l8,0l8,0l8,0l8,0l8,0l8,0l8,0l7,0l8,0l8,0l8,0l8,0l8,0l8,0l0,-12l0,-11l0,-12l0,-11l0,-12l0,-11l0,-12l0,-11l0,-12l-8,0l-8,0l-8,0l-8,0l-8,0l-8,0l-7,0l-8,0l-8,0l-8,0l-8,0l-8,0l-8,0l-8,0l-7,0l-8,0l-8,0l-8,0l-8,0l0,12l0,9l1,2l5,12l2,3l4,8l4,9l1,3l5,11l2,3l4,9l4,7l2,4z"/>
<path fill="#00E5FF" d="M76,443l3,7l3,5l5,0l8,0l8,0l8,0l8,0l8,0l7,0l8,0l8,0l8,0l8,0l8,0l8,0l0,-12l0,-11l0,-12l0,-11l0,-12l0,-11l0,-12l0,-11l0,-12l-8,0l-8,0l-8,0l-8,0l-8,0l-8,0l-7,0l-8,0l-8,0l-8,0l-8,0l-8,0l-8,0l-8,0l-7,0l-8,0l-8,0l-8,0l-8,0l5,12l3,5l3,6l5,11l0,1l5,11l3,5l3,7l5,9l0,2l6,12l1,2z"/>
<path fill="#00FF4D" d="M87,443l0,1l6,11l2,0l8,0l8,0l8,0l8,0l7,0l8,0l8,0l8,0l8,0l8,0l8,0l0,-12l0,-11l0,-12l0,-11l0,-12l0,-11l0,-12l0,-11l0,-12l-8,0l-8,0l-8,0l-8,0l-8,0l-8,0l-7,0l-8,0l-8,0l-8,0l-8,0l-8,0l-8,0l-8,0l-7,0l-8,0l-8,0l-6,0l5,12l1,1l4,10l4,7l2,5l5,11l1,1l5,11l2,5l4,6l4,9l2,3z"/>
<path fill="#00FF1A" d="M99,443l4,7l3,5l5,0l8,0l8,0l7,0l8,0l8,0l8,0l8,0l8,0l8,0l0,-12l0,-11l0,-12l0,-11l0,-12l0,-11l0,-12l0,-11l0,-12l-8,0l-8,0l-8,0l-8,0l-8,0l-8,0l-7,0l-8,0l-8,0l-8,0l-8,0l-8,0l-8,0l-8,0l-7,0l-8,0l-5,0l5,9l1,3l5,11l2,3l4,9l3,7l3,4l5,11l0,1l7,11l1,3l5,9l3,5z"/>
<path fill="#1AFF00" d="M112,443l7,9l1,3l7,0l7,0l8,0l8,0l8,0l8,0l8,0l8,0l0,-12l0,-11l0,-12l0,-11l0,-12l0,-11l0,-12l0,-11l0,-12l-8,0l-8,0l-8,0l-8,0l-8,0l-8,0l-7,0l-8,0l-8,0l-8,0l-8,0l-8,0l-8,0l-8,0l-7,0l-3,0l3,5l3,7l4,9l1,2l6,12l1,1l5,10l3,5l4,7l4,7l2,4l6,9l1,3l7,9z"/>
<path fill="#4DFF00" d="M128,443l6,7l5,5l3,0l8,0l8,0l8,0l8,0l8,0l0,-12l0,-11l0,-12l0,-11l0,-12l0,-11l0,-12l0,-11l0,-12l-8,0l-8,0l-8,0l-8,0l-8,0l-8,0l-7,0l-8,0l-8,0l-8,0l-8,0l-8,0l-8,0l-8,0l6,12l2,4l4,7l4,7l2,5l6,9l1,2l7,11l0,1l7,11l1,1l8,11l8,10z"/>
<path fill="#80FF00" d="M150,443l8,5l8,4l8,2l8,1l0,-12l0,-11l0,-12l0,-11l0,-12l0,-11l0,-12l0,-11l0,-12l-8,0l-8,0l-8,0l-8,0l-8,0l-8,0l-7,0l-8,0l-8,0l-8,0l-8,0l-8,0l-5,0l5,10l1,2l7,11l0,1l7,11l1,2l6,9l2,3l6,9l2,2l7,9l1,1l7,9l2,2l6,5z"/>
<path fill="#B3FF00" d="M168,432l6,1l8,1l0,-2l0,-12l0,-11l0,-12l0,-11l0,-12l0,-11l0,-12l-8,0l-8,0l-8,0l-8,0l-8,0l-8,0l-7,0l-8,0l-8,0l-8,0l-8,0l-2,0l2,3l5,9l3,4l4,7l4,5l4,7l4,4l5,7l3,3l7,9l8,7l5,4l3,3l8,5l8,3z"/>
<path fill="#E6FF00" d="M162,409l4,1l8,2l8,1l0,-4l0,-12l0,-11l0,-12l0,-11l0,-12l-8,0l-8,0l-8,0l-8,0l-8,0l-8,0l-7,0l-8,0l-8,0l-5,0l5,7l3,5l5,6l3,5l5,5l5,7l2,2l8,8l2,1l6,5l8,5z"/>
<path fill="#FFFF00" d="M157,386l1,0l8,4l8,2l8,0l0,-6l0,-12l0,-11l0,-12l-8,0l-8,0l-8,0l-8,0l-8,0l-8,0l-7,0l-7,0l7,8l3,4l4,4l7,7l1,1l8,6z"/>
<path fill="#FFF01E" d="M153,363l5,2l8,4l8,2l8,1l0,-9l0,-12l-8,0l-8,0l-8,0l-8,0l-8,0l-3,0l3,3l8,6z"/>
<rect x="32.5" y="351.5" width="150" height="104" fill="none" stroke="#000" stroke-width="1"/>
</g>
<g shape-rendering="crispEdges">
<rect x="193" y="351" width="150" height="104" fill="#0026FF"/>
<path fill="#004CFF" d="M198,443l3,8l2,4l6,0l8,0l8,0l8,0l8,0l7,0l8,0l8,0l8,0l8,0l8,0l8,0l8,0l7,0l8,0l8,0l8,0l8,0l0,-12l0,-11l0,-12l0,-11l0,-12l0,-11l0,-12l0,-11l0,-12l-8,0l-8,0l-8,0l-8,0l-7,0l-8,0l-8,0l-8,0l-8,0l-8,0l-8,0l-8,0l-7,0l-8,0l-8,0l-8,0l-8,0l-8,0l-8,0l0,12l0,11l0,12l0,11l0,12l0,11l0,12l0,2z"/>
<path fill="#0073FF" d="M207,443l2,4l4,8l4,0l8,0l8,0l8,0l7,0l8,0l8,0l8,0l8,0l8,0l8,0l8,0l7,0l8,0l8,0l8,0l8,0l0,-12l0,-11l0,-12l0,-11l0,-12l0,-11l0,-12l0,-11l0,-12l-8,0l-8,0l-8,0l-8,0l-7,0l-8,0l-8,0l-8,0l-8,0l-8,0l-8,0l-8,0l-7,0l-8,0l-8,0l-8,0l-8,0l-8,0l-8,0l0,12l0,11l0,12l0,11l0,12l0,4l4,7l4,10l1,2z"/>
<path fill="#0099FF" d="M217,443l5,12l3,0l8,0l8,0l7,0l8,0l8,0l8,0l8,0l8,0l8,0l8,0l7,0l8,0l8,0l8,0l8,0l0,-12l0,-11l0,-12l0,-11l0,-12l0,-11l0,-12l0,-11l0,-12l-8,0l-8,0l-8,0l-8,0l-7,0l-8,0l-8,0l-8,0l-8,0l-8,0l-8,0l-8,0l-7,0l-8,0l-8,0l-8,0l-8,0l-8,0l-8,0l0,12l0,11l0,12l0,6l2,5l6,12l0,1l5,10l3,7l2,5z"/>
<path fill="#00BFFF" d="M233,455l8,0l7,0l8,0l8,0l8,0l8,0l8,0l8,0l8,0l7,0l8,0l8,0l8,0l8,0l0,-12l0,-11l0,-12l0,-11l0,-12l0,-11l0,-12l0,-11l0,-12l-8,0l-8,0l-8,0l-8,0l-7,0l-8,0l-8,0l-8,0l-8,0l-8,0l-8,0l-8,0l-7,0l-8,0l-8,0l-8,0l-8,0l-8,0l-8,0l0,12l0,9l1,2l6,12l1,3l4,8l4,9l1,3l6,11l1,3l4,9l4,7l2,4z"/>
<path fill="#00E5FF" d="M237,443l4,7l2,5l5,0l8,0l8,0l8,0l8,0l8,0l8,0l8,0l7,0l8,0l8,0l8,0l8,0l0,-12l0,-11l0,-12l0,-11l0,-12l0,-11l0,-12l0,-11l0,-12l-8,0l-8,0l-8,0l-8,0l-7,0l-8,0l-8,0l-8,0l-8,0l-8,0l-8,0l-8,0l-7,0l-8,0l-8,0l-8,0l-8,0l-8,0l-8,0l6,12l2,5l3,6l5,11l0,1l6,11l2,5l3,7l5,9l1,2l5,12l2,2z"/>
<path fill="#00FF4D" d="M248,443l0,1l7,11l1,0l8,0l8,0l8,0l8,0l8,0l8,0l7,0l8,0l8,0l8,0l8,0l0,-12l0,-11l0,-12l0,-11l0,-12l0,-11l0,-12l0,-11l0,-12l-8,0l-8,0l-8,0l-8,0l-7,0l-8,0l-8,0l-8,0l-8,0l-8,0l-8,0l-8,0l-7,0l-8,0l-8,0l-8,0l-8,0l-6,0l5,12l1,1l5,10l3,7l2,5l6,11l0,1l5,11l3,5l3,6l5,9l1,3z"/>
<path fill="#00FF1A" d="M260,443l4,7l3,5l5,0l8,0l8,0l8,0l8,0l7,0l8,0l8,0l8,0l8,0l0,-12l0,-11l0,-12l0,-11l0,-12l0,-11l0,-12l0,-11l0,-12l-8,0l-8,0l-8,0l-8,0l-7,0l-8,0l-8,0l-8,0l-8,0l-8,0l-8,0l-8,0l-7,0l-8,0l-8,0l-8,0l-4,0l4,9l1,3l5,11l2,3l4,9l4,7l2,4l6,11l0,1l6,11l1,3l5,9l3,5z"/>
<path fill="#1AFF00" d="M273,443l7,9l2,3l6,0l8,0l8,0l7,0l8,0l8,0l8,0l8,0l0,-12l0,-11l0,-12l0,-11l0,-12l0,-11l0,-12l0,-11l0,-12l-8,0l-8,0l-8,0l-8,0l-7,0l-8,0l-8,0l-8,0l-8,0l-8,0l-8,0l-8,0l-7,0l-8,0l-8,0l-3,0l3,5l3,7l5,9l1,2l6,12l1,1l5,10l2,5l4,7l4,7l3,4l5,9l2,3l6,9z"/>
<path fill="#4DFF00" d="M289,443l7,7l4,5l4,0l7,0l8,0l8,0l8,0l8,0l0,-12l0,-11l0,-12l0,-11l0,-12l0,-11l0,-12l0,-11l0,-12l-8,0l-8,0l-8,0l-8,0l-7,0l-8,0l-8,0l-8,0l-8,0l-8,0l-8,0l-8,0l-7,0l-8,0l5,12l3,4l3,7l4,7l3,5l5,9l1,2l7,11l0,1l8,11l0,1l8,11l8,10z"/>
<path fill="#80FF00" d="M311,443l8,5l8,4l8,2l8,1l0,-12l0,-11l0,-12l0,-11l0,-12l0,-11l0,-12l0,-11l0,-12l-8,0l-8,0l-8,0l-8,0l-7,0l-8,0l-8,0l-8,0l-8,0l-8,0l-8,0l-8,0l-5,0l5,10l1,2l7,11l0,1l7,11l1,2l6,9l2,3l6,9l2,2l7,9l1,1l8,9l2,2l6,5z"/>
<path fill="#B3FF00" d="M329,432l6,1l8,1l0,-2l0,-12l0,-11l0,-12l0,-11l0,-12l0,-11l0,-12l-8,0l-8,0l-8,0l-8,0l-7,0l-8,0l-8,0l-8,0l-8,0l-8,0l-8,0l-1,0l1,3l6,9l2,4l5,7l3,5l5,7l3,4l5,7l3,3l7,9l1,0l8,7l4,4l3,3l8,5l8,3z"/>
<path fill="#E6FF00" d="M323,409l4,1l8,2l8,1l0,-4l0,-12l0,-11l0,-12l0,-11l0,-12l-8,0l-8,0l-8,0l-8,0l-7,0l-8,0l-8,0l-8,0l-8,0l-5,0l5,7l3,5l5,6l4,5l4,5l5,7l3,2l8,8l1,1l6,5l8,5z"/>
<path fill="#FFFF00" d="M318,386l1,0l8,4l8,2l8,0l0,-6l0,-12l0,-11l0,-12l-8,0l-8,0l-8,0l-8,0l-7,0l-8,0l-8,0l-6,0l6,8l3,4l5,4l7,7l1,1l7,6z"/>
<path fill="#FFF01E" d="M315,363l4,2l8,4l8,2l8,1l0,-9l0,-12l-8,0l-8,0l-8,0l-8,0l-7,0l-4,0l4,3l7,6z"/>
<rect x="193.5" y="351.5" width="150" height="104" fill="none" stroke="#000" stroke-width="1"/>
</g>
<g shape-rendering="crispEdges">
<rect x="355" y="351" width="149" height="104" fill="#00FF1A"/>
<path fill="#1AFF00" d="M355,455l8,0l7,0l8,0l8,0l8,0l3,0l5,-6l7,-6l1,0l8,-5l8,-2l7,0l8,2l8,5l1,0l7,6l5,6l3,0l8,0l8,0l8,0l7,0l8,0l0,-12l0,-11l0,-12l0,-11l0,-12l0,-11l0,-12l0,-11l0,-12l-8,0l-7,0l-8,0l-8,0l-8,0l-8,0l-8,0l-8,0l-8,0l-7,0l-8,0l-8,0l-8,0l-8,0l-8,0l-8,0l-8,0l-7,0l-8,0l0,12l0,11l0,12l0,11l0,12l0,11l0,12l0,11z"/>
<path fill="#4DFF00" d="M355,455l8,0l7,0l8,0l5,0l3,-6l4,-6l4,-5l5,-6l3,-3l8,-7l3,-2l5,-3l8,-2l7,0l8,2l5,3l3,2l8,7l3,3l5,6l4,5l4,6l3,6l5,0l8,0l7,0l8,0l0,-12l0,-11l0,-12l0,-11l0,-12l0,-11l0,-12l0,-11l0,-12l-8,0l-7,0l-8,0l-8,0l-8,0l-8,0l-8,0l-8,0l-8,0l-7,0l-8,0l-8,0l-8,0l-8,0l-8,0l-8,0l-8,0l-7,0l-8,0l0,12l0,11l0,12l0,11l0,12l0,11l0,12l0,11z"/>
<path fill="#80FF00" d="M355,455l8,0l7,0l2,0l6,-12l0,-1l6,-10l2,-3l6,-9l2,-3l7,-8l1,-1l8,-7l7,-4l1,0l8,-3l7,0l8,3l1,0l7,4l8,7l1,1l7,8l2,3l6,9l2,3l6,10l0,1l6,12l2,0l7,0l8,0l0,-12l0,-11l0,-12l0,-11l0,-12l0,-11l0,-12l0,-11l0,-12l-8,0l-7,0l-8,0l-8,0l-8,0l-8,0l-8,0l-8,0l-8,0l-7,0l-8,0l-8,0l-8,0l-8,0l-8,0l-8,0l-8,0l-7,0l-8,0l0,12l0,11l0,12l0,11l0,12l0,11l0,12l0,11z"/>
<path fill="#B3FF00" d="M355,455l8,0l5,-12l2,-5l3,-6l5,-10l1,-2l7,-11l0,-1l8,-11l0,-1l8,-9l2,-1l6,-6l8,-4l6,-2l2,-1l7,0l2,1l6,2l8,4l6,6l2,1l8,9l0,1l8,11l0,1l7,11l1,2l5,10l3,6l2,5l5,12l8,0l0,-12l0,-11l0,-12l0,-11l0,-12l0,-11l0,-12l0,-11l0,-12l-8,0l-7,0l-8,0l-8,0l-8,0l-8,0l-8,0l-8,0l-8,0l-7,0l-8,0l-8,0l-8,0l-8,0l-8,0l-8,0l-8,0l-7,0l-8,0l0,12l0,11l0,12l0,11l0,12l0,11l0,12l0,11z"/>
<path fill="#E6FF00" d="M355,455l5,-12l3,-8l1,-3l5,-12l1,-3l5,-8l3,-8l3,-4l5,-10l1,-1l7,-10l2,-2l6,-7l5,-4l3,-3l8,-5l8,-2l7,0l8,2l8,5l3,3l5,4l6,7l2,2l7,10l1,1l5,10l3,4l3,8l5,8l1,3l5,12l1,3l3,8l5,12l0,-12l0,-11l0,-12l0,-11l0,-12l0,-11l0,-12l0,-11l0,-12l-8,0l-7,0l-8,0l-8,0l-8,0l-8,0l-8,0l-8,0l-8,0l-7,0l-8,0l-8,0l-8,0l-8,0l-8,0l-8,0l-8,0l-7,0l-8,0l0,12l0,11l0,12l0,11l0,12l0,11l0,12l0,11z"/>
<path fill="#FFFF00" d="M355,432l0,3l1,-3l4,-12l3,-5l2,-6l5,-12l0,-1l6,-10l2,-6l4,-6l4,-8l3,-3l5,-8l3,-4l-3,0l-8,0l-8,0l-8,0l-7,0l-8,0l0,12l0,11l0,12l0,11l0,12l0,11zM503,432l1,3l0,-3l0,-12l0,-11l0,-12l0,-11l0,-12l0,-11l0,-12l-8,0l-7,0l-8,0l-8,0l-8,0l-3,0l3,4l5,8l3,3l4,8l4,6l2,6l6,10l0,1l5,12l2,6l3,5z"/>
<path fill="#FFF01E" d="M355,409l0,6l2,-6l4,-12l2,-3l3,-8l4,-10l1,-2l6,-11l1,-3l5,-9l-5,0l-8,0l-7,0l-8,0l0,12l0,11l0,12l0,11zM502,409l2,6l0,-6l0,-12l0,-11l0,-12l0,-11l0,-12l-8,0l-7,0l-8,0l-5,0l5,9l1,3l6,11l1,2l4,10l3,8l2,3z"/>
<path fill="#FFE53B" d="M355,386l0,8l3,-8l4,-12l1,-1l4,-10l3,-8l2,-4l-2,0l-7,0l-8,0l0,12l0,11zM501,386l3,8l0,-8l0,-12l0,-11l0,-12l-8,0l-7,0l-2,0l2,4l3,8l4,10l1,1z"/>
<path fill="#FFDE59" d="M355,363l0,10l4,-10l4,-10l0,-2l-8,0zM500,363l4,10l0,-10l0,-12l-8,0l0,2z"/>
<rect x="355.5" y="351.5" width="149" height="104" fill="none" stroke="#000" stroke-width="1"/>
</g>
<g shape-rendering="crispEdges">
<rect x="516" y="351" width="150" height="104" fill="#0073FF"/>
<path fill="#0099FF" d="M522,443l2,3l6,9l2,0l8,0l8,0l7,0l8,0l8,0l8,0l8,0l8,0l8,0l8,0l7,0l8,0l8,0l8,0l8,0l8,0l8,0l0,-12l0,-11l0,-12l0,-11l0,-12l0,-11l0,-12l0,-11l0,-12l-8,0l-8,0l-8,0l-8,0l-8,0l-8,0l-7,0l-8,0l-8,0l-8,0l-8,0l-8,0l-8,0l-8,0l-7,0l-8,0l-8,0l-8,0l-8,0l0,12l0,11l0,12l0,11l0,12l0,11l0,12l0,3z"/>
<path fill="#00BFFF" d="M537,443l3,4l5,8l3,0l7,0l8,0l8,0l8,0l8,0l8,0l8,0l8,0l7,0l8,0l8,0l8,0l8,0l8,0l8,0l0,-12l0,-11l0,-12l0,-11l0,-12l0,-11l0,-12l0,-11l0,-12l-8,0l-8,0l-8,0l-8,0l-8,0l-8,0l-7,0l-8,0l-8,0l-8,0l-8,0l-8,0l-8,0l-8,0l-7,0l-8,0l-8,0l-8,0l-8,0l0,12l0,11l0,12l0,11l0,12l0,6l4,5l4,6l4,6l4,5z"/>
<path fill="#00E5FF" d="M552,443l3,6l5,6l3,0l8,0l8,0l8,0l8,0l8,0l8,0l7,0l8,0l8,0l8,0l8,0l8,0l8,0l0,-12l0,-11l0,-12l0,-11l0,-12l0,-11l0,-12l0,-11l0,-12l-8,0l-8,0l-8,0l-8,0l-8,0l-8,0l-7,0l-8,0l-8,0l-8,0l-8,0l-8,0l-8,0l-8,0l-7,0l-8,0l-8,0l-8,0l-8,0l0,12l0,11l0,12l0,8l2,3l6,8l3,4l5,7l3,4l5,7l3,5l5,6z"/>
<path fill="#00FF4D" d="M566,443l5,7l4,5l4,0l8,0l8,0l8,0l8,0l7,0l8,0l8,0l8,0l8,0l8,0l8,0l0,-12l0,-11l0,-12l0,-11l0,-12l0,-11l0,-12l0,-11l0,-12l-8,0l-8,0l-8,0l-8,0l-8,0l-8,0l-7,0l-8,0l-8,0l-8,0l-8,0l-8,0l-8,0l-8,0l-7,0l-8,0l-8,0l-8,0l-8,0l0,12l0,10l1,1l7,10l1,2l7,9l1,2l7,9l2,3l6,8l2,3l5,8l3,4l5,7z"/>
<path fill="#00FF1A" d="M581,443l6,8l3,4l5,0l8,0l8,0l7,0l8,0l8,0l8,0l8,0l8,0l8,0l0,-12l0,-11l0,-12l0,-11l0,-12l0,-11l0,-12l0,-11l0,-12l-8,0l-8,0l-8,0l-8,0l-8,0l-8,0l-7,0l-8,0l-8,0l-8,0l-8,0l-8,0l-8,0l-8,0l-7,0l-8,0l-8,0l-8,0l-8,0l0,1l7,11l1,0l8,11l8,11l0,1l8,10l0,1l7,10l2,2l6,9l2,2l6,9l2,3l6,8z"/>
<path fill="#1AFF00" d="M596,443l7,9l2,3l6,0l7,0l8,0l8,0l8,0l8,0l8,0l8,0l0,-12l0,-11l0,-12l0,-11l0,-12l0,-11l0,-12l0,-11l0,-12l-8,0l-8,0l-8,0l-8,0l-8,0l-8,0l-7,0l-8,0l-8,0l-8,0l-8,0l-8,0l-8,0l-8,0l-7,0l-8,0l-8,0l-2,0l2,3l6,9l2,1l7,10l1,1l7,11l8,11l8,11l0,1l8,10l1,1l7,10l1,2l7,9z"/>
<path fill="#4DFF00" d="M611,443l7,10l2,2l6,0l8,0l8,0l8,0l8,0l8,0l0,-12l0,-11l0,-12l0,-11l0,-12l0,-11l0,-12l0,-11l0,-12l-8,0l-8,0l-8,0l-8,0l-8,0l-8,0l-7,0l-8,0l-8,0l-8,0l-8,0l-8,0l-8,0l-8,0l-7,0l-3,0l3,4l5,8l2,3l7,8l1,2l7,10l1,1l7,10l1,1l7,11l1,0l8,11l8,11l0,1l8,10z"/>
<path fill="#80FF00" d="M626,443l8,11l1,1l7,0l8,0l8,0l8,0l0,-12l0,-11l0,-12l0,-11l0,-12l0,-11l0,-12l0,-11l0,-12l-8,0l-8,0l-8,0l-8,0l-8,0l-8,0l-7,0l-8,0l-8,0l-8,0l-8,0l-8,0l-8,0l-3,0l3,5l5,7l3,4l5,7l3,4l6,8l2,2l6,9l2,2l6,10l2,1l7,10l1,1l7,11z"/>
<path fill="#B3FF00" d="M641,443l1,1l8,11l8,0l8,0l0,-12l0,-11l0,-12l0,-11l0,-12l0,-11l0,-12l0,-11l0,-12l-8,0l-8,0l-8,0l-8,0l-8,0l-8,0l-7,0l-8,0l-8,0l-8,0l-8,0l-4,0l4,6l4,6l4,5l4,6l4,5l5,7l3,4l5,7l3,3l5,9l2,2l7,9l1,2l7,10l1,1z"/>
<path fill="#E6FF00" d="M656,443l2,2l7,10l1,0l0,-12l0,-11l0,-12l0,-11l0,-12l0,-11l0,-12l0,-11l0,-12l-8,0l-8,0l-8,0l-8,0l-8,0l-8,0l-7,0l-8,0l-8,0l-5,0l5,7l3,5l5,6l3,5l5,6l4,6l3,5l5,6l3,5l5,7l3,3l6,8l2,3l6,9l2,2z"/>
<path fill="#FFFF00" d="M663,432l3,3l0,-3l0,-12l0,-11l0,-12l0,-11l0,-12l0,-11l0,-12l-8,0l-8,0l-8,0l-8,0l-8,0l-8,0l-7,0l-6,0l6,8l2,4l5,7l3,4l5,7l4,5l4,6l4,5l4,6l4,6l4,5l5,6l3,4z"/>
<path fill="#FFF01E" d="M661,409l5,6l0,-6l0,-12l0,-11l0,-12l0,-11l0,-12l-8,0l-8,0l-8,0l-8,0l-8,0l-6,0l6,9l2,3l6,8l2,3l6,8l3,4l5,7l3,4l5,7z"/>
<path fill="#FFE53B" d="M660,386l6,8l0,-8l0,-12l0,-11l0,-12l-8,0l-8,0l-8,0l-7,0l7,10l1,2l7,9l1,2l7,9z"/>
<path fill="#FFDE59" d="M658,363l8,10l0,-10l0,-12l-8,0l-8,0l8,11z"/>
<path fill="#FFDB77" d="M665,351l1,1l0,-1z"/>
<rect x="516.5" y="351.5" width="150" height="104" fill="none" stroke="#000" stroke-width="1"/>
</g>
<g shape-rendering="crispEdges">
<rect x="547.5" y="9.5" width="76" height="6" fill="#FFE0B3" stroke="#000" stroke-width="1"/>
<rect x="547.5" y="15.5" width="76" height="6" fill="#FFDC95" stroke="#000" stroke-width="1"/>
<rect x="547.5" y="21.5" width="76" height="6" fill="#FFDB77" stroke="#000" stroke-width="1"/>
<rect x="547.5" y="27.5" width="76" height="5" fill="#FFDE59" stroke="#000" stroke-width="1"/>
<rect x="547.5" y="32.5" width="76" height="6" fill="#FFE53B" stroke="#000" stroke-width="1"/>
<rect x="547.5" y="38.5" width="76" height="6" fill="#FFF01E" stroke="#000" stroke-width="1"/>
<rect x="547.5" y="44.5" width="76" height="6" fill="#FFFF00" stroke="#000" stroke-width="1"/>
<rect x="547.5" y="50.5" width="76" height="6" fill="#E6FF00" stroke="#000" stroke-width="1"/>
<rect x="547.5" y="56.5" width="76" height="6" fill="#B3FF00" stroke="#000" stroke-width="1"/>
<rect x="547.5" y="62.5" width="76" height="6" fill="#80FF00" stroke="#000" stroke-width="1"/>
<rect x="547.5" y="68.5" width="76" height="5" fill="#4DFF00" stroke="#000" stroke-width="1"/>
<rect x="547.5" y="73.5" width="76" height="6" fill="#1AFF00" stroke="#000" stroke-width="1"/>
<rect x="547.5" y="79.5" width="76" height="6" fill="#00FF1A" stroke="#000" stroke-width="1"/>
<rect x="547.5" y="85.5" width="76" height="6" fill="#00FF4D" stroke="#000" stroke-width="1"/>
<rect x="547.5" y="91.5" width="76" height="6" fill="#00E5FF" stroke="#000" stroke-width="1"/>
<rect x="547.5" y="97.5" width="76" height="6" fill="#00BFFF" stroke="#000" stroke-width="1"/>
<rect x="547.5" y="103.5" width="76" height="5" fill="#0099FF" stroke="#000" stroke-width="1"/>
<rect x="547.5" y="108.5" width="76" height="6" fill="#0073FF" stroke="#000" stroke-width="1"/>
<rect x="547.5" y="114.5" width="76" height="6" fill="#004CFF" stroke="#000" stroke-width="1"/>
<rect x="547.5" y="120.5" width="76" height="6" fill="#0026FF" stroke="#000" stroke-width="1"/>
<rect x="547.5" y="126.5" width="76" height="6" fill="#0000FF" stroke="#000" stroke-width="1"/>
<rect x="547.5" y="132.5" width="76" height="6" fill="#2600FF" stroke="#000" stroke-width="1"/>
<rect x="547.5" y="138.5" width="76" height="5" fill="#4C00FF" stroke="#000" stroke-width="1"/>
<path d="M623.5,9.5 H634" stroke="#000" stroke-width="1" fill="none"/>
<path d="M623.5,38.5 H634" stroke="#000" stroke-width="1" fill="none"/>
<path d="M623.5,68.5 H634" stroke="#000" stroke-width="1" fill="none"/>
<path d="M623.5,97.5 H634" stroke="#000" stroke-width="1" fill="none"/>
<path d="M623.5,126.5 H634" stroke="#000" stroke-width="1" fill="none"/>
</g>
<text x="642.8" y="17" font-size="16">25</text>
<text x="642.8" y="46" font-size="16">20</text>
<text x="642.8" y="75" font-size="16">15</text>
<text x="642.8" y="104" font-size="16">10</text>
<text x="642.8" y="133" font-size="16">5</text>
<text class="a" x="98.6" y="474.5" font-size="20">x<tspan font-size="15.5" dy="4">1</tspan></text>
<text class="a" x="259.6" y="474.5" font-size="20">x<tspan font-size="15.5" dy="4">2</tspan></text>
<text class="a" x="421.1" y="474.5" font-size="20">x<tspan font-size="15.5" dy="4">3</tspan></text>
<text class="a" x="582.6" y="474.5" font-size="20">x<tspan font-size="15.5" dy="4">4</tspan></text>
<text class="a" x="3.8" y="61.9" font-size="20">x<tspan font-size="15.5" dy="4">2</tspan></text>
<text class="a" x="3.8" y="176.9" font-size="20">x<tspan font-size="15.5" dy="4">3</tspan></text>
<text class="a" x="3.8" y="292.4" font-size="20">x<tspan font-size="15.5" dy="5">4</tspan></text>
<text class="a" x="3.8" y="407.9" font-size="20">x<tspan font-size="15.5" dy="4">5</tspan></text>
</svg>
</body></html>
